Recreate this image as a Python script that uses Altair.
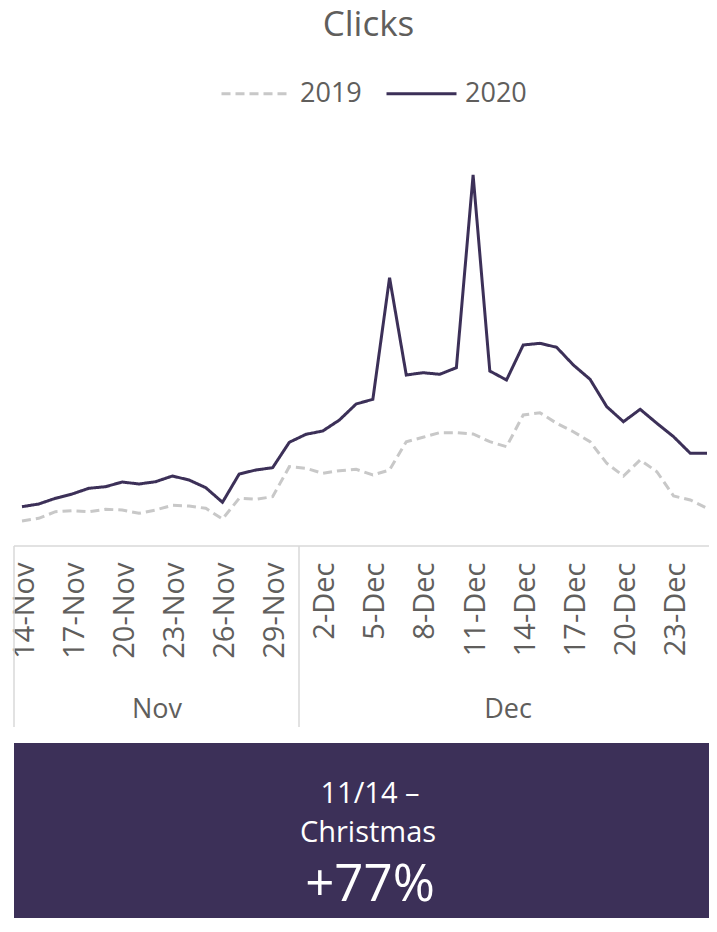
import altair as alt
import pandas as pd

FONT = "Open Sans"
TEXT_GREY = "#605E5C"

days = [
    "14-Nov", "15-Nov", "16-Nov", "17-Nov", "18-Nov", "19-Nov", "20-Nov",
    "21-Nov", "22-Nov", "23-Nov", "24-Nov", "25-Nov", "26-Nov", "27-Nov",
    "28-Nov", "29-Nov", "30-Nov", "1-Dec", "2-Dec", "3-Dec", "4-Dec",
    "5-Dec", "6-Dec", "7-Dec", "8-Dec", "9-Dec", "10-Dec", "11-Dec",
    "12-Dec", "13-Dec", "14-Dec", "15-Dec", "16-Dec", "17-Dec", "18-Dec",
    "19-Dec", "20-Dec", "21-Dec", "22-Dec", "23-Dec", "24-Dec", "25-Dec",
]
tick_labels = [
    "14-Nov", "17-Nov", "20-Nov", "23-Nov", "26-Nov", "29-Nov",
    "2-Dec", "5-Dec", "8-Dec", "11-Dec", "14-Dec", "17-Dec", "20-Dec", "23-Dec",
]
months = ["Nov", "Dec"]
years = ["2019", "2020"]

clicks_2019 = [
    250, 277, 343, 353, 343, 367, 360, 327, 360, 407, 400, 377, 270, 477,
    467, 493, 793, 777, 727, 753, 767, 710, 760, 1043, 1087, 1133, 1133, 1120,
    1043, 993, 1310, 1333, 1227, 1143, 1043, 827, 700, 860, 743, 500, 460, 377,
]
clicks_2020 = [
    393, 420, 477, 520, 577, 593, 640, 620, 643, 700, 660, 583, 437, 720,
    760, 783, 1037, 1117, 1150, 1260, 1420, 1467, 2683, 1710, 1733, 1717, 1783, 3710,
    1750, 1660, 2010, 2027, 1987, 1810, 1667, 1393, 1243, 1367, 1227, 1093, 927, 927,
]

summary_period = "11/14 \u2013"
summary_label = "Christmas"
summary_change = "+77%"

df = pd.DataFrame({
    "day": days * 2,
    "year": [years[0]] * len(days) + [years[1]] * len(days),
    "clicks": clicks_2019 + clicks_2020,
})

W, H = 695, 416
PURPLE = "#3C3058"
AXIS_GREY = "#D9D9D9"

legend_params = dict(
    orient="none", legendX=206, legendY=-73, direction="horizontal", title=None,
    symbolType="stroke", symbolSize=4900, symbolStrokeWidth=3,
    labelFontSize=27, labelFont=FONT, labelColor=TEXT_GREY,
    columnPadding=18, labelOffset=7, padding=0,
)

lines = alt.Chart(df).mark_line(strokeWidth=3).encode(
    x=alt.X(
        "day:O", sort=days,
        scale=alt.Scale(type="point", range=[8, 693], padding=0),
        axis=alt.Axis(
            values=tick_labels, labelAngle=-90, title=None, domain=False,
            ticks=False, tickSize=0, labelPadding=16, labelFontSize=29,
            labelOffset=2, labelFont=FONT, labelColor=TEXT_GREY, grid=False,
        ),
    ),
    y=alt.Y("clicks:Q", scale=alt.Scale(domain=[0, 4160]), axis=None),
    color=alt.Color(
        "year:N",
        scale=alt.Scale(domain=years, range=["#C8C8C8", PURPLE]),
        legend=alt.Legend(**legend_params),
    ),
    strokeDash=alt.StrokeDash(
        "year:N",
        scale=alt.Scale(domain=years, range=[[9, 5], [1, 0]]),
        legend=alt.Legend(**legend_params),
    ),
)

dummy = pd.DataFrame({"a": [0]})

axis_line = alt.Chart(dummy).mark_rule(color=AXIS_GREY, strokeWidth=1.5).encode(
    x=alt.value(0), x2=alt.value(W), y=alt.value(H)
)
sep_left = alt.Chart(dummy).mark_rule(color=AXIS_GREY, strokeWidth=1.5).encode(
    x=alt.value(0), y=alt.value(H), y2=alt.value(597)
)
sep_mid = alt.Chart(dummy).mark_rule(color=AXIS_GREY, strokeWidth=1.5).encode(
    x=alt.value(285), y=alt.value(H), y2=alt.value(597)
)
nov_text = alt.Chart(dummy).mark_text(
    text=months[0], font=FONT, fontSize=27, color=TEXT_GREY, baseline="middle", align="center"
).encode(x=alt.value(143), y=alt.value(580))
dec_text = alt.Chart(dummy).mark_text(
    text=months[1], font=FONT, fontSize=27, color=TEXT_GREY, baseline="middle", align="center"
).encode(x=alt.value(494), y=alt.value(580))

box = alt.Chart(dummy).mark_rect(color=PURPLE).encode(
    x=alt.value(0), x2=alt.value(W), y=alt.value(613), y2=alt.value(788)
)
t1 = alt.Chart(dummy).mark_text(
    text=summary_period, font=FONT, fontSize=29, color="white", baseline="middle", align="center"
).encode(x=alt.value(356), y=alt.value(664))
t2 = alt.Chart(dummy).mark_text(
    text=summary_label, font=FONT, fontSize=29, color="white", baseline="middle", align="center"
).encode(x=alt.value(354), y=alt.value(703))
t3 = alt.Chart(dummy).mark_text(
    text=summary_change, font=FONT, fontSize=51, color="white", baseline="middle", align="center"
).encode(x=alt.value(356), y=alt.value(756))

chart = alt.layer(
    axis_line, sep_left, sep_mid, nov_text, dec_text, lines, box, t1, t2, t3
).properties(
    width=W, height=H,
    title=alt.TitleParams(
        "Clicks", fontSize=35, font=FONT, color=TEXT_GREY, fontWeight="normal",
        anchor="middle", frame="group", offset=14, dx=7,
    ),
    autosize=alt.AutoSizeParams(type="none"),
    padding={"left": 6, "top": 122, "right": 0, "bottom": 372},
).configure_view(stroke=None)

chart.save("out.html", embed_options={"renderer": "svg", "actions": False})
